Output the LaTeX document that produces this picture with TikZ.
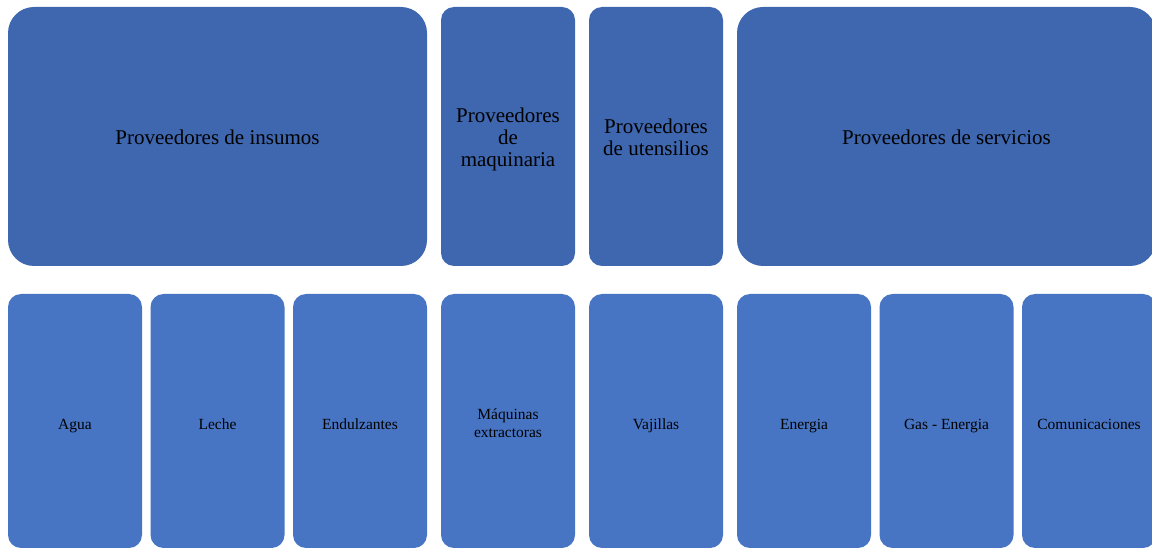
\documentclass[tikz,border=0pt]{standalone}
\usepackage{fontspec}
\setmainfont{Liberation Serif}
\usepackage{tikz}
\usetikzlibrary{positioning}
\definecolor{topblue}{HTML}{3E67B0}
\definecolor{lowblue}{HTML}{4775C4}

\begin{document}
\begin{tikzpicture}[x=1pt,y=-1pt,
  topblk/.style={fill=topblue,text=black,align=center,inner sep=0pt,minimum height=259pt,font=\fontsize{21}{22}\selectfont},
  lowblk/.style={fill=lowblue,text=black,align=center,inner sep=0pt,minimum width=134pt,minimum height=254pt,rounded corners=13pt,font=\fontsize{15.5}{18}\selectfont},
  oneline/.style={text height=#1,text depth=0pt}]
\useasboundingbox (0,0) rectangle (1152,548);
% suppliers
\node[topblk,oneline=15.6pt,minimum width=419pt,rounded corners=26pt] (insumos) at (217.5,136.5) {Proveedores de insumos};
\node[topblk,minimum width=134pt,rounded corners=13pt] (maquinaria) at (508,136.5) {\rule{0pt}{20pt}Proveedores\\ de\\ maquinaria};
\node[topblk,minimum width=134pt,rounded corners=13pt] (utensilios) at (656,136.5) {\rule{0pt}{16pt}Proveedores\\ de utensilios};
\node[topblk,oneline=15.6pt,minimum width=419pt,rounded corners=26pt] (servicios) at (946.5,136.5) {Proveedores de servicios};
% items
\foreach \n/\x/\t in {agua/75/Agua,leche/217.5/Leche,endulzantes/360/Endulzantes,vajillas/656/Vajillas,energia/804/Energia,gas/946.5/Gas - Energia,comunic/1089/Comunicaciones}{
  \node[lowblk,oneline=16pt] (\n) at (\x,421) {\t};
}
\node[lowblk] (maquinas) at (508,421) {\rule{0pt}{15pt}Máquinas\\ extractoras};
\end{tikzpicture}
\end{document}
